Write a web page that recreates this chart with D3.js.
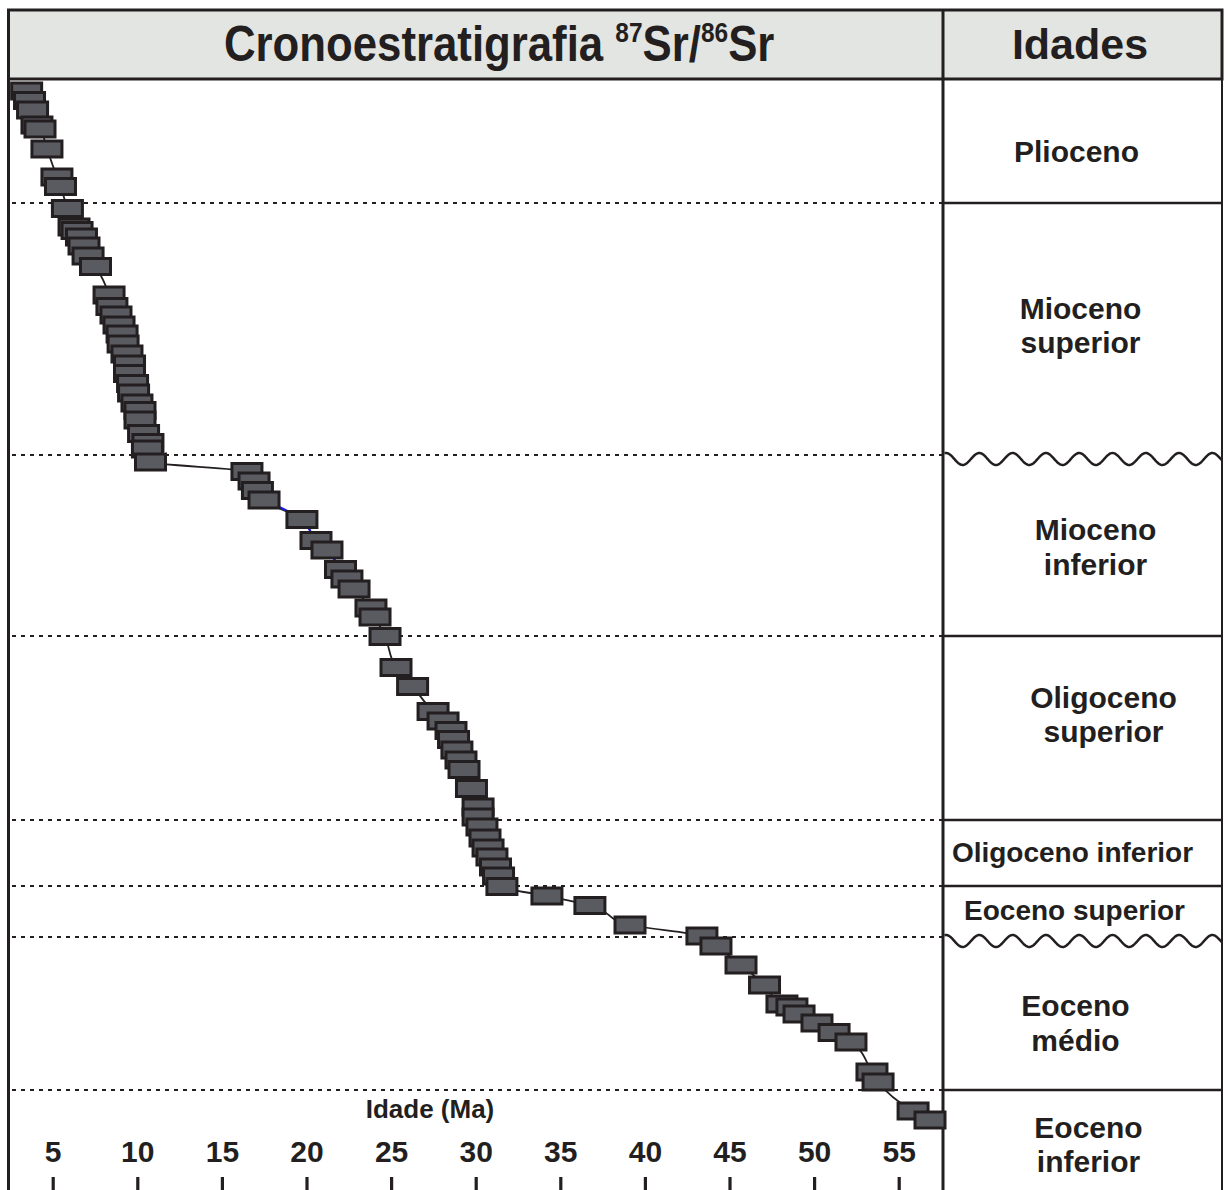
<!DOCTYPE html>
<html><head><meta charset="utf-8">
<script src="https://cdn.jsdelivr.net/npm/d3@7"></script>
<style>
body{margin:0;background:#fff}
svg{display:block}
text{font-family:"Liberation Sans",Arial,Helvetica,sans-serif;font-weight:bold;fill:#231f20}
</style>
</head><body>
<svg id="c" width="1228" height="1190"></svg>
<script>
// ---- DATA ----
// Sample ages (Ma) from 87Sr/86Sr, top to bottom
const ages = [3.46,3.63,3.81,4.07,4.25,4.66,5.25,5.46,5.87,6.26,6.44,6.70,6.85,7.09,7.53,
  8.33,8.50,8.74,8.92,9.10,9.16,9.39,9.54,9.54,9.72,9.78,9.98,10.16,10.16,10.37,10.63,10.60,10.78,
  16.48,16.90,17.10,17.49,19.73,20.56,21.21,22.01,22.39,22.81,23.81,24.05,24.64,25.29,26.27,
  27.48,28.07,28.54,28.69,28.89,29.13,29.31,29.75,30.14,30.14,30.37,30.55,30.73,30.96,31.17,31.35,31.55,
  34.21,36.75,39.12,43.37,44.20,45.68,47.07,48.10,48.69,49.11,50.17,51.18,52.18,53.42,53.78,55.85,56.85];
// Relative stratigraphic position of each sample (arbitrary depth units, increasing downward)
const depths = [11,20.5,30,45,49,69,97,106.5,128.5,147,150.5,157,166,176,186.5,
  215,226.5,235,245,254,264,274,284,293.5,303.5,313,323,330.5,340,353.5,362.5,369,382,
  391.5,401,410.5,420,439.5,460.5,470,489.5,499,509,528,537,556.5,587.5,606.5,
  631.5,641,650.5,659.5,670,680,689.5,708.5,727,737,747,758,768,777,787,796,806.5,
  816,825.5,845,856,866,885,905,924,927,934,943,952.5,962,992,1002,1031,1040];
const blueSegment = [36, 40]; // sample index range drawn in blue
const ageTicks = [5,10,15,20,25,30,35,40,45,50,55];
const boundaryDepths = [123,375,556,740,806,857,1010];
const boundaryIsUnconformity = [false,true,false,false,false,true,false];
const epochNames = [["Plioceno"],["Mioceno","superior"],["Mioceno","inferior"],["Oligoceno","superior"],
  ["Oligoceno inferior"],["Eoceno superior"],["Eoceno","médio"],["Eoceno","inferior"]];
const titleParts = ["Cronoestratigrafia ","87","Sr/","86","Sr"];
const xLabel = "Idade (Ma)";
const colTitle = "Idades";

// ---- LAYOUT ----
const W = 1228, H = 1190;
const L = 8.5, T = 10, HB = 79, DIV = 943, R = 1222;
const ink = "#231f20";
const svg = d3.select("#c");

const x = d3.scaleLinear().domain([5,55]).range([52.7,898.7]);
const y = d3.scaleLinear().domain([0,1110]).range([80,1190]);

// header band
svg.append("rect").attr("x",L).attr("y",T).attr("width",R-L).attr("height",HB-T)
  .attr("fill","#e3e5e2").attr("stroke",ink).attr("stroke-width",3);

// title (condensed)
const tt = svg.append("text").attr("transform","translate(224,61) scale(0.875,1)");
tt.append("tspan").attr("font-size",50).text(titleParts[0]);
tt.append("tspan").attr("font-size",28).attr("dy",-19).text(titleParts[1]);
tt.append("tspan").attr("font-size",50).attr("dy",19).text(titleParts[2]);
tt.append("tspan").attr("font-size",28).attr("dy",-19).text(titleParts[3]);
tt.append("tspan").attr("font-size",50).attr("dy",19).text(titleParts[4]);

svg.append("text").attr("x",1080).attr("y",59).attr("text-anchor","middle")
  .attr("font-size",43).text(colTitle);

// vertical frame lines
svg.append("line").attr("x1",L).attr("x2",L).attr("y1",T).attr("y2",H).attr("stroke",ink).attr("stroke-width",3);
svg.append("line").attr("x1",DIV).attr("x2",DIV).attr("y1",T).attr("y2",H).attr("stroke",ink).attr("stroke-width",3);
svg.append("line").attr("x1",R).attr("x2",R).attr("y1",T).attr("y2",H).attr("stroke",ink).attr("stroke-width",2);

// boundaries
boundaryDepths.forEach((d,i)=>{
  const yy = y(d);
  svg.append("line").attr("x1",12).attr("x2",DIV).attr("y1",yy).attr("y2",yy)
    .attr("stroke",ink).attr("stroke-width",2).attr("stroke-dasharray","4,5");
  if (boundaryIsUnconformity[i]) {
    const pts = d3.range(DIV+1.5, R+0.5, 1).map(xx => [xx, yy + 4 - 6*Math.cos(2*Math.PI*(xx-946)/33.3)]);
    svg.append("path").attr("d", d3.line()(pts)).attr("fill","none").attr("stroke",ink).attr("stroke-width",2.5);
  } else {
    svg.append("line").attr("x1",DIV).attr("x2",R).attr("y1",yy).attr("y2",yy)
      .attr("stroke",ink).attr("stroke-width",2.5);
  }
});

// epoch labels
const edges = [0, ...boundaryDepths, 1110];
const labelTweak = [[-6,10,30],[-2,-4,30],[13,1,30],[21,-14,30],[-10,-1,28],[-8,-2,28],[-7,9,30],[6,4,30]];
epochNames.forEach((lines,i)=>{
  const cy = (y(edges[i]) + y(edges[i+1]))/2 + labelTweak[i][1];
  const cx = (DIV + R)/2 + labelTweak[i][0];
  const fs = labelTweak[i][2];
  const lh = 34.5;
  const t = svg.append("text").attr("text-anchor","middle").attr("font-size",fs);
  lines.forEach((s,j)=>{
    t.append("tspan").attr("x",cx)
      .attr("y", cy + (j - (lines.length-1)/2)*lh + fs*0.36).text(s);
  });
});

// curve through samples
const pts = ages.map((a,i)=>[x(a), y(depths[i])]);
const line = d3.line().curve(d3.curveMonotoneY);
svg.append("path").attr("d", line(pts)).attr("fill","none").attr("stroke",ink).attr("stroke-width",1.8);
svg.append("path").attr("d", line(pts.slice(blueSegment[0], blueSegment[1]+1)))
  .attr("fill","none").attr("stroke","#1c1cf0").attr("stroke-width",2.2);

// sample boxes
const bw = 30, bh = 16;
svg.append("g").selectAll("rect").data(ages).join("rect")
  .attr("x",(a)=>x(a)-bw/2).attr("y",(a,i)=>y(depths[i])-bh/2)
  .attr("width",bw).attr("height",bh)
  .attr("fill","#5a5b60").attr("stroke",ink).attr("stroke-width",3);

// axis (ticks upward from bottom, labels above)
const ax = svg.append("g").attr("transform",`translate(0,${H})`)
  .call(d3.axisTop(x).tickValues(ageTicks).tickSize(13).tickPadding(15).tickFormat(d3.format("d")));
ax.select(".domain").remove();
ax.selectAll(".tick line").attr("stroke",ink).attr("stroke-width",3.2);
ax.selectAll(".tick text").attr("font-size",30).attr("font-family","'Liberation Sans',Arial,sans-serif")
  .attr("font-weight","bold").attr("fill",ink);

svg.append("text").attr("x",430).attr("y",1118).attr("text-anchor","middle")
  .attr("font-size",26).text(xLabel);
</script>
</body></html>
